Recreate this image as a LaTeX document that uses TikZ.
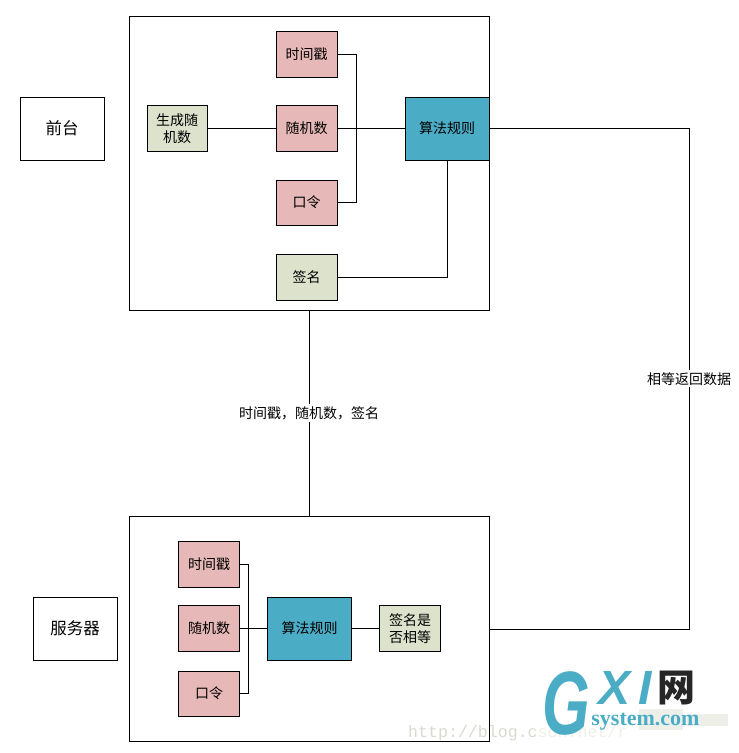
\documentclass[tikz,border=0pt]{standalone}
\usepackage{fontspec}
\setmainfont{Noto Sans CJK SC}
\newfontfamily\logosans{Liberation Sans}
\newfontfamily\logoserif{Liberation Serif}
\newfontfamily\marktype{Liberation Mono}
\definecolor{boxred}{HTML}{E6B8B7}
\definecolor{boxgreen}{HTML}{DDE2CC}
\definecolor{boxblue}{HTML}{4BACC6}
\definecolor{markgrey}{HTML}{DADAD2}
\definecolor{markpale}{HTML}{EFEFEA}
\tikzset{
  panel/.style={draw,line width=1pt,inner sep=0pt},
  tagbox/.style={panel,fill=white,minimum width=84pt,minimum height=63pt,font=\fontsize{16.5}{19}\selectfont},
  redbox/.style={panel,fill=boxred,minimum width=61pt,minimum height=46pt,font=\fontsize{14}{17}\selectfont},
  greenbox/.style={panel,fill=boxgreen,minimum width=61pt,minimum height=46pt,align=center,font=\fontsize{14}{17}\selectfont},
  bluebox/.style={panel,fill=boxblue,minimum width=84pt,minimum height=63pt,font=\fontsize{14}{17}\selectfont},
  linktext/.style={fill=white,inner sep=2pt,font=\fontsize{14}{17}\selectfont},
  link/.style={line width=1pt}
}
\begin{document}
\begin{tikzpicture}[x=1pt,y=-1pt]
  \useasboundingbox[fill=white] (0,0) rectangle (739,753);
  % outer frames and side tags
  \node[panel,minimum width=360pt,minimum height=294pt] (front) at (309,163) {};
  \node[panel,minimum width=360pt,minimum height=225pt] (server) at (309,628.5) {};
  \node[tagbox] (fronttag) at (62,128.5) {前台};
  \node[tagbox] (servertag) at (75,628.5) {服务器};
  % upper group
  \node[redbox] (ftime) at (306.5,54) {时间戳};
  \node[redbox] (frand) at (306.5,128.5) {随机数};
  \node[redbox,minimum height=45pt] (fword) at (306.5,202.5) {口令};
  \node[greenbox] (fsign) at (306.5,277) {签名};
  \node[greenbox,minimum width=60pt] (fgen) at (177,128.5) {生成随\\机数};
  \node[bluebox] (falgo) at (447,128.5) {算法规则};
  \coordinate (fjoin) at (356.5,128.5);
  % lower group
  \node[redbox] (stime) at (209,564) {时间戳};
  \node[redbox] (srand) at (209,628.5) {随机数};
  \node[redbox,minimum height=45pt] (sword) at (209,693.5) {口令};
  \node[bluebox] (salgo) at (309.5,628.5) {算法规则};
  \node[greenbox] (scheck) at (410,628.5) {签名是\\否相等};
  \coordinate (sjoin) at (248,628.5);
  % connectors
  \draw[link] (fgen) -- (frand);
  \draw[link] (frand) -- (falgo);
  \draw[link] (ftime) -| (fjoin);
  \draw[link] (fword) -| (fjoin);
  \draw[link] (fsign) -| (falgo);
  \draw[link] (stime) -| (sjoin);
  \draw[link] (sword) -| (sjoin);
  \draw[link] (srand) -- (salgo);
  \draw[link] (salgo) -- (scheck);
  \coordinate (turntop) at (689,128.5);
  \coordinate (turnlow) at (689,629);
  \draw[link] (falgo.east) -- (turntop) -- node[linktext,pos=.5] (backtext) {相等返回数据} (turnlow) -- (server.east |- turnlow);
  \draw[link] (front) -- node[linktext,pos=.5] (sendtext) {时间戳，随机数，签名} (server);
  % stamp in the lower right corner
  \node[text=markgrey,anchor=west,inner sep=0pt,font=\marktype\fontsize{16.6}{18}\selectfont] (markurl) at (408,733) {http://blog.c\textcolor{markpale}{sdn.net/r}};
  \fill[markpale] (639,709) rectangle (683,730);
  \fill[markpale] (687,714) rectangle (728,726);
  \node[text=boxblue,inner sep=0pt,xscale=.68,font=\logosans\bfseries\itshape\fontsize{90}{90}\selectfont] (logog) at (566.5,703.5) {G};
  \node[text=boxblue,inner sep=0pt,font=\logosans\itshape\bfseries\fontsize{48}{48}\selectfont] (logox) at (615,688) {X};
  \node[text=boxblue,inner sep=0pt,font=\logosans\itshape\bfseries\fontsize{48}{48}\selectfont] (logoi) at (645,688) {I};
  \node[text=black!85,inner sep=0pt,font=\bfseries\fontsize{38}{38}\selectfont] (logonet) at (676,688) {网};
  \node[text=boxblue,inner sep=0pt,font=\logoserif\bfseries\fontsize{22}{22}\selectfont] (logosite) at (645.5,722) {system.com};
\end{tikzpicture}
\end{document}
